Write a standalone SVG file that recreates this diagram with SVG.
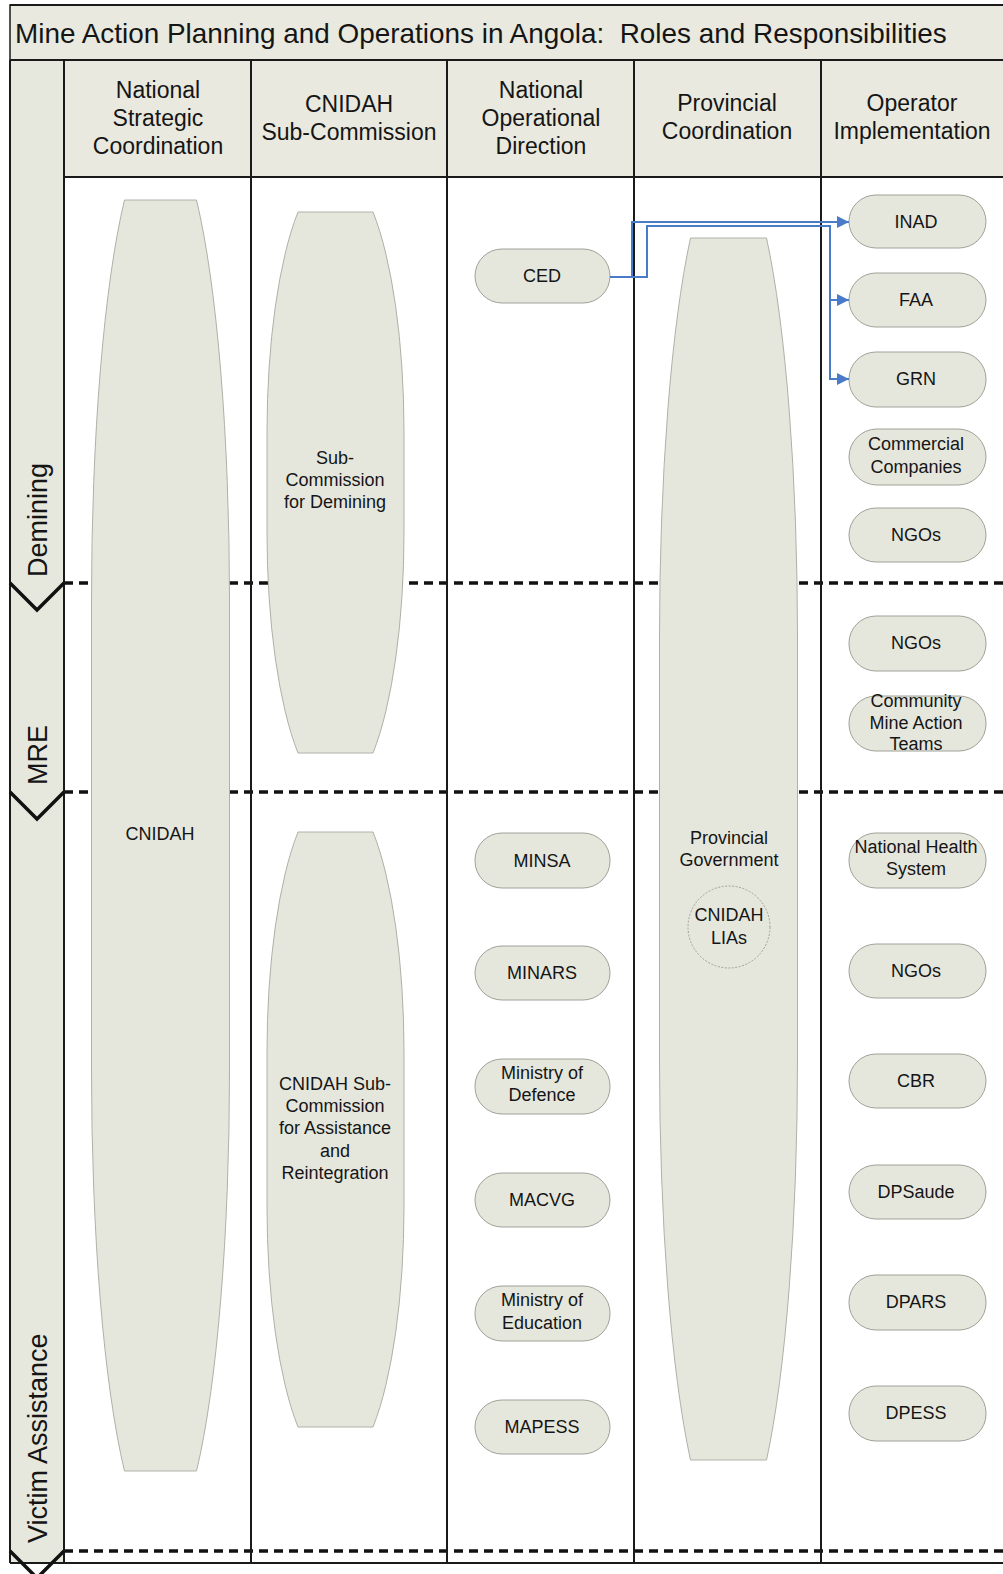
<svg xmlns="http://www.w3.org/2000/svg" width="1003" height="1574" viewBox="0 0 1003 1574">
<style>
text{font-family:"Liberation Sans",Arial,sans-serif;fill:#151515}
.title{font-size:27.9px}
.hdr{font-size:23px;text-anchor:middle}
.lane{font-size:27px}
.nt{font-size:18px;text-anchor:middle}
.pill{fill:#e6e7dc;stroke:#a0a098;stroke-width:1}
.big{fill:#e6e7dc;stroke:#b0b0a8;stroke-width:1}
.grid{stroke:#1a1a1a;stroke-width:2;fill:none}
.dash{stroke:#111;stroke-width:3.5;stroke-dasharray:9 6;fill:none}
.chev{stroke:#111;stroke-width:3.5;fill:none;stroke-linejoin:miter}
.conn{stroke:#4a7bc8;stroke-width:2;fill:none}
</style>
<defs>
<marker id="arr" markerUnits="userSpaceOnUse" markerWidth="13" markerHeight="13" refX="12" refY="6" orient="auto">
<path d="M0,0 L12,6 L0,12 z" fill="#4a7bc8"/>
</marker>
</defs>
<rect width="1003" height="1574" fill="#ffffff"/>
<g id="frame">
<rect x="10" y="5" width="1000" height="55" fill="#e9e9df" stroke="#1a1a1a" stroke-width="1.5"/>
<text class="title" x="15" y="43" xml:space="preserve">Mine Action Planning and Operations in Angola:  Roles and Responsibilities</text>
<rect x="64" y="60" width="946" height="117" fill="#e9e9df"/>
<rect x="10" y="60" width="54" height="1503" fill="#e7e8dd"/>
</g>
<g id="separators">
<path class="dash" d="M64,583 H1003 M64,792 H1003 M64,1551 H1003"/>
</g>
<g id="grid">
<path class="grid" d="M10,60 H1003 M64,177 H1003 M10,60 V1563 M64,60 V1563 M251,60 V1563 M447,60 V1563 M634,60 V1563 M821,60 V1563 M10,1563 H1003"/>
<path class="grid" stroke-width="1" d="M10,5 H1003"/>
</g>
<g id="lanes">
<path class="chev" d="M10,583 L37,610 L64,583 M10,792 L37,819 L64,792 M10,1551 L37,1578 L64,1551"/>
<text class="lane" transform="translate(47,577) rotate(-90)">Demining</text>
<text class="lane" transform="translate(47,785) rotate(-90)">MRE</text>
<text class="lane" transform="translate(47,1543) rotate(-90)">Victim Assistance</text>
</g>
<g id="headers">
<text class="hdr" x="158" y="98">National</text>
<text class="hdr" x="158" y="126">Strategic</text>
<text class="hdr" x="158" y="154">Coordination</text>
<text class="hdr" x="349" y="112">CNIDAH</text>
<text class="hdr" x="349" y="140">Sub-Commission</text>
<text class="hdr" x="541" y="98">National</text>
<text class="hdr" x="541" y="126">Operational</text>
<text class="hdr" x="541" y="154">Direction</text>
<text class="hdr" x="727" y="111">Provincial</text>
<text class="hdr" x="727" y="139">Coordination</text>
<text class="hdr" x="912" y="111">Operator</text>
<text class="hdr" x="912" y="139">Implementation</text>
</g>
<g id="cnidah">
<path class="big" d="M124.5,200 H196.5 A69,469 0 0 1 229.5,600 V1071 A69,469 0 0 1 196.5,1471 H124.5 A69,469 0 0 1 91.5,1071 V600 A69,469 0 0 1 124.5,200 Z"/>
<text class="nt" x="160" y="840">CNIDAH</text>
</g>
<g id="subcomm-demining">
<path class="big" d="M298,212 H373 A68.5,263 0 0 1 404,432 V533 A68.5,263 0 0 1 373,753 H298 A68.5,263 0 0 1 267,533 V432 A68.5,263 0 0 1 298,212 Z"/>
<text class="nt" x="335" y="464">Sub-</text>
<text class="nt" x="335" y="486">Commission</text>
<text class="nt" x="335" y="508">for Demining</text>
</g>
<g id="subcomm-assistance">
<path class="big" d="M298,832 H373 A68.5,263 0 0 1 404,1052 V1207 A68.5,263 0 0 1 373,1427 H298 A68.5,263 0 0 1 267,1207 V1052 A68.5,263 0 0 1 298,832 Z"/>
<text class="nt" x="335" y="1090">CNIDAH Sub-</text>
<text class="nt" x="335" y="1112">Commission</text>
<text class="nt" x="335" y="1134">for Assistance</text>
<text class="nt" x="335" y="1157">and</text>
<text class="nt" x="335" y="1179">Reintegration</text>
</g>
<g id="provincial-government">
<path class="big" d="M690.5,238 H766.5 A69,479 0 0 1 797.5,638 V1060 A69,479 0 0 1 766.5,1460 H690.5 A69,479 0 0 1 659.5,1060 V638 A69,479 0 0 1 690.5,238 Z"/>
<text class="nt" x="729" y="844">Provincial</text>
<text class="nt" x="729" y="866">Government</text>
</g>
<g id="cnidah-lias">
<circle cx="729" cy="927" r="41" fill="#e6e7dc" stroke="#a0a098" stroke-width="1" stroke-dasharray="2 1.5"/>
<text class="nt" x="729" y="921">CNIDAH</text>
<text class="nt" x="729" y="944">LIAs</text>
</g>
<g id="ced"><rect class="pill" x="475" y="249" width="135" height="54" rx="27"/><text class="nt" x="542" y="282">CED</text></g>
<g id="minsa"><rect class="pill" x="475" y="833" width="135" height="55" rx="27"/><text class="nt" x="542" y="867">MINSA</text></g>
<g id="minars"><rect class="pill" x="475" y="946" width="135" height="54" rx="27"/><text class="nt" x="542" y="979">MINARS</text></g>
<g id="ministry-defence"><rect class="pill" x="475" y="1059" width="135" height="55" rx="27"/><text class="nt" x="542" y="1079">Ministry of</text><text class="nt" x="542" y="1101">Defence</text></g>
<g id="macvg"><rect class="pill" x="475" y="1173" width="135" height="54" rx="27"/><text class="nt" x="542" y="1206">MACVG</text></g>
<g id="ministry-education"><rect class="pill" x="475" y="1286" width="135" height="55" rx="27"/><text class="nt" x="542" y="1306">Ministry of</text><text class="nt" x="542" y="1329">Education</text></g>
<g id="mapess"><rect class="pill" x="475" y="1400" width="135" height="54" rx="27"/><text class="nt" x="542" y="1433">MAPESS</text></g>
<g id="inad"><rect class="pill" x="849" y="195" width="137" height="53" rx="27"/><text class="nt" x="916" y="228">INAD</text></g>
<g id="faa"><rect class="pill" x="849" y="273" width="137" height="54" rx="27"/><text class="nt" x="916" y="306">FAA</text></g>
<g id="grn"><rect class="pill" x="849" y="352" width="137" height="55" rx="27"/><text class="nt" x="916" y="385">GRN</text></g>
<g id="commercial-companies"><rect class="pill" x="849" y="429" width="137" height="56" rx="28"/><text class="nt" x="916" y="450">Commercial</text><text class="nt" x="916" y="473">Companies</text></g>
<g id="ngos-demining"><rect class="pill" x="849" y="508" width="137" height="54" rx="27"/><text class="nt" x="916" y="541">NGOs</text></g>
<g id="ngos-mre"><rect class="pill" x="849" y="616" width="137" height="55" rx="27"/><text class="nt" x="916" y="649">NGOs</text></g>
<g id="community-teams"><rect class="pill" x="849" y="696" width="137" height="55" rx="27"/><text class="nt" x="916" y="707">Community</text><text class="nt" x="916" y="729">Mine Action</text><text class="nt" x="916" y="750">Teams</text></g>
<g id="national-health-system"><rect class="pill" x="849" y="833" width="137" height="55" rx="27"/><text class="nt" x="916" y="853">National Health</text><text class="nt" x="916" y="875">System</text></g>
<g id="ngos-va"><rect class="pill" x="849" y="944" width="137" height="54" rx="27"/><text class="nt" x="916" y="977">NGOs</text></g>
<g id="cbr"><rect class="pill" x="849" y="1054" width="137" height="54" rx="27"/><text class="nt" x="916" y="1087">CBR</text></g>
<g id="dpsaude"><rect class="pill" x="849" y="1165" width="137" height="54" rx="27"/><text class="nt" x="916" y="1198">DPSaude</text></g>
<g id="dpars"><rect class="pill" x="849" y="1275" width="137" height="55" rx="27"/><text class="nt" x="916" y="1308">DPARS</text></g>
<g id="dpess"><rect class="pill" x="849" y="1386" width="137" height="55" rx="27"/><text class="nt" x="916" y="1419">DPESS</text></g>
<g id="connectors">
<path class="conn" d="M610,277 H632 V222 H849" marker-end="url(#arr)"/>
<path class="conn" d="M610,277 H647 V226 H830 V379 H849" marker-end="url(#arr)"/>
<path class="conn" d="M830,300 H849" marker-end="url(#arr)"/>
</g>
</svg>
